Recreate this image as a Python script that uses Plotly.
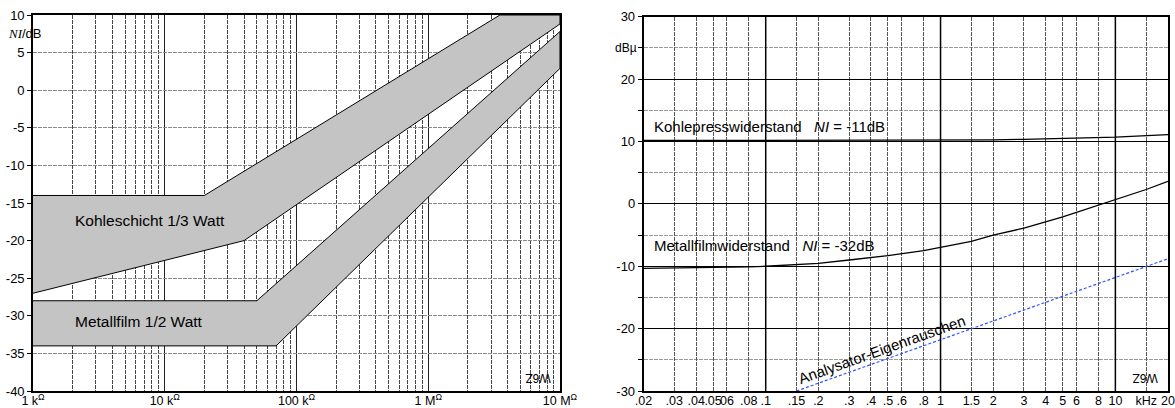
import math
import plotly.graph_objects as go

# ---------------- Left chart data (noise index vs resistance) ----------------
res_ticks = [1e3, 1e4, 1e5, 1e6, 1e7]
res_labels = ["1 k<sup>Ω</sup>", "10 k<sup>Ω</sup>", "100 k<sup>Ω</sup>", "1 M<sup>Ω</sup>", "10 M<sup>Ω</sup>"]
res_minor = [m * d for d in [1e3, 1e4, 1e5, 1e6] for m in range(2, 10)]
ni_ticks = [-40, -35, -30, -25, -20, -15, -10, -5, 0, 5, 10]

kohle_top_x = [1e3, 2e4, 3.5e6, 1e7]
kohle_top_y = [-14, -14, 10, 10]
kohle_bot_x = [1e3, 4e4, 1e7]
kohle_bot_y = [-27, -20, 8.8]

metal_top_x = [1e3, 5e4, 1e7]
metal_top_y = [-28, -28, 7.8]
metal_bot_x = [1e3, 7e4, 1e7]
metal_bot_y = [-34, -34, 2.9]

# ---------------- Right chart data (noise spectrum) ----------------
freq_ticks = [0.02, 0.03, 0.04, 0.05, 0.06, 0.08, 0.1, 0.15, 0.2, 0.3, 0.4, 0.5, 0.6,
              0.8, 1, 1.5, 2, 3, 4, 5, 6, 8, 10, 15, 20]
freq_labels = [".02", ".03", ".04", ".05", "06", ".08", ".1", ".15", ".2", ".3", ".4", ".5", ".6",
               ".8", "1", "1.5", "2", "3", "4", "5", "6", "8", "10", "kHz", "20"]
freq_bold = [0.1, 1, 10]
dbu_ticks = [-30, -20, -10, 0, 10, 20, 30]

kohlepress_f = [0.02, 0.1, 0.5, 1, 2, 3, 5, 10, 20]
kohlepress_v = [10.15, 10.15, 10.15, 10.18, 10.25, 10.35, 10.5, 10.7, 11.1]

metall_f = [0.02, 0.03, 0.05, 0.08, 0.1, 0.15, 0.2, 0.3, 0.5, 0.8, 1, 1.5, 2, 3, 5, 8, 10, 15, 20]
metall_v = [-10.35, -10.3, -10.2, -10.1, -10.0, -9.8, -9.55, -9.0, -8.3, -7.5, -7.0, -6.0,
            -5.0, -3.9, -2.1, -0.2, 0.6, 2.3, 3.6]

analyser_f = [0.15, 1, 10, 20]
analyser_v = [-30, -21.8, -11.8, -8.8]

FONT = "Liberation Sans, Arial, Helvetica, sans-serif"

fig = go.Figure()

# Bands (left)
fig.add_trace(go.Scatter(
    x=kohle_top_x + kohle_bot_x[::-1], y=kohle_top_y + kohle_bot_y[::-1],
    xaxis="x", yaxis="y", mode="lines", fill="toself", fillcolor="#c4c4c4",
    line=dict(color="black", width=1), hoverinfo="skip", showlegend=False))
fig.add_trace(go.Scatter(
    x=metal_top_x + metal_bot_x[::-1], y=metal_top_y + metal_bot_y[::-1],
    xaxis="x", yaxis="y", mode="lines", fill="toself", fillcolor="#c4c4c4",
    line=dict(color="black", width=1), hoverinfo="skip", showlegend=False))

# Curves (right)
fig.add_trace(go.Scatter(x=kohlepress_f, y=kohlepress_v, xaxis="x2", yaxis="y2", mode="lines",
                         line=dict(color="black", width=1.3), showlegend=False))
fig.add_trace(go.Scatter(x=metall_f, y=metall_v, xaxis="x2", yaxis="y2", mode="lines",
                         line=dict(color="black", width=1.3), showlegend=False))
fig.add_trace(go.Scatter(x=analyser_f, y=analyser_v, xaxis="x2", yaxis="y2", mode="lines",
                         line=dict(color="#2f55ff", width=1.2, dash="3px,2px"), showlegend=False))

axis_common = dict(showline=True, linecolor="black", linewidth=1.6, mirror=True,
                   zeroline=False, automargin=False, ticklabeloverflow="allow")
yfont = dict(family=FONT, size=13, color="black")
xfont = dict(family=FONT, size=12.5, color="black")

fig.update_layout(
    width=1175, height=408, autosize=False,
    margin=dict(l=33, r=7, t=15, b=17, autoexpand=False),
    paper_bgcolor="white", plot_bgcolor="white",
    showlegend=False,
    font=dict(family=FONT, color="black"),
    xaxis=dict(type="log", range=[3, 7], domain=[0, 0.4643], anchor="y",
               tickmode="array", tickvals=res_ticks, ticktext=res_labels, tickangle=0,
               ticks="", showgrid=True, gridcolor="#222", gridwidth=1.4,
               tickfont=xfont, ticklabelstandoff=-3,
               minor=dict(tickmode="array", tickvals=res_minor, showgrid=True,
                          gridcolor="#444", gridwidth=1, griddash="4px,1px", ticks=""),
               **axis_common),
    yaxis=dict(range=[-40, 10], domain=[0, 1], anchor="x",
               tickmode="array", tickvals=ni_ticks, ticktext=[str(v) for v in ni_ticks],
               ticks="outside", ticklen=4, tickcolor="black", tickfont=yfont,
               showgrid=True, gridcolor="#888", gridwidth=1, griddash="4px,1px",
               **axis_common),
    xaxis2=dict(type="log", range=[math.log10(0.02), math.log10(20)], domain=[0.5379, 1],
                anchor="y2", tickmode="array", tickvals=freq_ticks, ticktext=freq_labels,
                tickangle=0, ticks="", showgrid=True, gridcolor="#555", gridwidth=1,
                griddash="4px,1px", tickfont=xfont, ticklabelstandoff=-3, **axis_common),
    yaxis2=dict(range=[-30, 30], domain=[0, 0.9955], anchor="x2",
                tickmode="array", tickvals=dbu_ticks, ticktext=[str(v) for v in dbu_ticks],
                ticks="outside", ticklen=4, tickcolor="black", tickfont=yfont,
                showgrid=True, gridcolor="black", gridwidth=1.2,
                minor=dict(dtick=5, showgrid=True, gridcolor="#999", gridwidth=1,
                           griddash="4px,1px", ticks="outside", ticklen=4, tickcolor="black"),
                **axis_common),
)

# Bold decade grid lines in right chart
for f in freq_bold:
    fig.add_shape(type="line", xref="x2", yref="y2 domain", x0=f, x1=f, y0=0, y1=1,
                  line=dict(color="black", width=1.5), layer="above")

ann = []
ann.append(dict(xref="x domain", yref="y", x=0, y=7.5, xanchor="center", yanchor="middle",
                xshift=-8, showarrow=False,
                text="<i><span style='font-family:Liberation Serif, Times New Roman, serif'>NI</span></i>/dB",
                font=dict(family=FONT, size=13)))
ann.append(dict(xref="x", yref="y", x=math.log10(2e3), y=-17.3, xanchor="left", yanchor="middle",
                showarrow=False, text="Kohleschicht 1/3 Watt", font=dict(family=FONT, size=15.5)))
ann.append(dict(xref="x", yref="y", x=math.log10(2e3), y=-30.8, xanchor="left", yanchor="middle",
                showarrow=False, text="Metallfilm 1/2 Watt", font=dict(family=FONT, size=15.5)))
ann.append(dict(xref="x domain", yref="y domain", x=0.958, y=0.035, xanchor="center",
                yanchor="middle", showarrow=False, text="W6Z", textangle=180,
                font=dict(family=FONT, size=12)))

ann.append(dict(xref="x2 domain", yref="y2", x=0, y=25, xanchor="right", yanchor="middle",
                xshift=-5, showarrow=False, text="dBµ", font=dict(family=FONT, size=12)))
ann.append(dict(xref="x2", yref="y2", x=math.log10(0.0223), y=12.4, xanchor="left",
                yanchor="middle", showarrow=False,
                text="Kohlepresswiderstand\u00a0\u00a0\u00a0<i>NI</i> = -11dB",
                font=dict(family=FONT, size=15)))
ann.append(dict(xref="x2", yref="y2", x=math.log10(0.0223), y=-6.7, xanchor="left",
                yanchor="middle", showarrow=False,
                text="Metallfilmwiderstand\u00a0\u00a0\u00a0<i>NI</i> = -32dB",
                font=dict(family=FONT, size=15)))
ann.append(dict(xref="x2", yref="y2", x=math.log10(0.46), y=-23.4, xanchor="center",
                yanchor="middle", showarrow=False, text="Analysator-Eigenrauschen",
                textangle=-19.7, font=dict(family=FONT, size=15)))
ann.append(dict(xref="x2 domain", yref="y2 domain", x=0.956, y=0.035, xanchor="center",
                yanchor="middle", showarrow=False, text="W6Z", textangle=180,
                font=dict(family=FONT, size=12)))

fig.update_layout(annotations=ann)

fig.write_html(
    "out.html",
    config={"responsive": False, "displayModeBar": False},
    post_script=("document.documentElement.style.overflow='hidden';"
                 "document.body.style.margin='0px';document.body.style.overflow='hidden';"),
)
